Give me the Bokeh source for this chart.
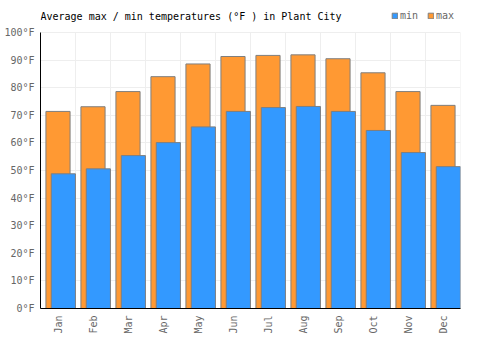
from bokeh.plotting import figure
from bokeh.models import FactorRange, Range1d, FixedTicker, Legend, LegendItem, CustomJSTickFormatter, ColumnDataSource, Label
from bokeh.transform import dodge
from bokeh.embed import file_html
from bokeh.resources import INLINE
from math import pi

months = ["Jan", "Feb", "Mar", "Apr", "May", "Jun", "Jul", "Aug", "Sep", "Oct", "Nov", "Dec"]
tmin = [48.8, 50.6, 55.4, 60.1, 65.8, 71.4, 72.8, 73.2, 71.4, 64.5, 56.5, 51.4]
tmax = [71.4, 73.1, 78.6, 84.0, 88.6, 91.3, 91.7, 91.9, 90.5, 85.4, 78.6, 73.6]
y_ticks = [0, 10, 20, 30, 40, 50, 60, 70, 80, 90, 100]
title_text = "Average max / min temperatures (°F ) in Plant City"

FONT = "DejaVu Sans Mono"
BLUE = "#3399ff"
ORANGE = "#ff9933"
EDGE = "#7f7f7f"
GRID = "#eeeeee"

H, BOTTOM = 350, 42
FRAME_H = H - BOTTOM          # frame runs to the top of the canvas
PLOT_H = 276                  # height used by 0..100
YMAX = 100.0 * FRAME_H / PLOT_H

src = ColumnDataSource(dict(month=months, tmin=tmin, tmax=tmax))

p = figure(width=500, height=H, x_range=FactorRange(*months, range_padding=0),
           y_range=Range1d(0, YMAX), output_backend="svg", toolbar_location=None,
           min_border_left=40, min_border_right=40, min_border_top=0, min_border_bottom=BOTTOM)
p.outline_line_color = None

# vertical grid lines at category boundaries, limited to 0..100
bounds = list(range(len(months) + 1))
p.segment(x0=bounds, x1=bounds, y0=[0] * len(bounds), y1=[100] * len(bounds),
          line_color=GRID, line_width=1, level="underlay")

r_max = p.vbar(x=dodge("month", 0.0, range=p.x_range), top="tmax", width=0.69, source=src,
               fill_color=ORANGE, line_color=EDGE, line_width=1)
r_min = p.vbar(x=dodge("month", 0.153, range=p.x_range), top="tmin", width=0.69, source=src,
               fill_color=BLUE, line_color=EDGE, line_width=1)

p.add_layout(Label(x=0, y=100.0 * (FRAME_H - 16) / PLOT_H, text=title_text,
                   text_font=FONT, text_font_size="10px", text_color="#000000",
                   text_baseline="middle", text_align="left"))

# grids
p.xgrid.visible = False
p.ygrid[0].ticker = FixedTicker(ticks=y_ticks)
p.ygrid[0].grid_line_color = GRID

# axes
p.yaxis.ticker = FixedTicker(ticks=y_ticks)
p.yaxis.bounds = (0, 100)
p.yaxis.formatter = CustomJSTickFormatter(code="return tick + '°F';")
for ax in (p.xaxis[0], p.yaxis[0]):
    ax.axis_line_color = "#000000"
    ax.axis_line_width = 1
    ax.major_tick_line_color = None
    ax.minor_tick_line_color = None
    ax.major_tick_out = 0
    ax.major_tick_in = 0
    ax.major_label_text_font = FONT
    ax.major_label_text_font_size = "10px"
    ax.major_label_text_color = "#666666"
p.yaxis.major_label_standoff = 6
p.xaxis.major_label_orientation = pi / 2
p.xaxis.major_label_standoff = 7

legend = Legend(items=[LegendItem(label="min", renderers=[r_min]),
                       LegendItem(label="max", renderers=[r_max])],
                orientation="horizontal", location=(351, FRAME_H - 16 - 5),
                label_text_font=FONT, label_text_font_size="10px", label_text_color="#666666",
                glyph_width=7, glyph_height=7, label_height=10, label_standoff=2, spacing=7,
                padding=0, margin=0, background_fill_alpha=0, border_line_alpha=0)
p.add_layout(legend, "center")

open("out.html", "w").write(file_html(p, INLINE))
